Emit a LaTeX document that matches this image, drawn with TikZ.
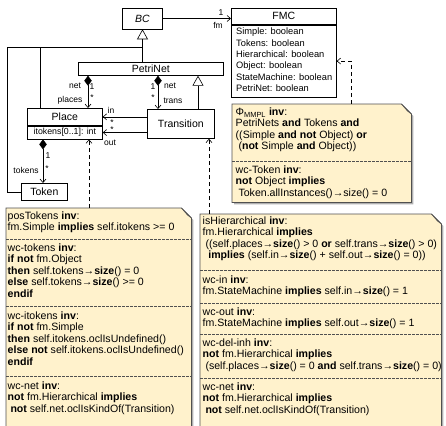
\documentclass[tikz,border=0pt]{standalone}
\usepackage{fontspec}
\setmainfont{Liberation Sans}
\usetikzlibrary{arrows.meta,calc}
\definecolor{notefill}{HTML}{FFF2CC}
\definecolor{noteline}{HTML}{505050}
\definecolor{foldfill}{HTML}{CFC5A2}
\definecolor{shadowc}{HTML}{B0B0B0}
\tikzset{
  cls/.style={draw=black, fill=white, line width=0.7pt, inner sep=0pt, font=\fontsize{10.5}{12}\selectfont},
  attrtxt/.style={font=\fontsize{9.3}{11.4}\selectfont, align=left, inner sep=0pt, anchor=north west},
  ntxt/.style={font=\fontsize{10.6}{11.5}\selectfont, align=left, inner sep=0pt, anchor=north west},
  lbl/.style={font=\fontsize{8.5}{9}\selectfont, inner sep=0pt},
  conn/.style={line width=0.6pt},
  gen/.style={conn, -{Triangle[open, length=10pt, width=11pt]}},
  comp/.style={conn, {Diamond[length=10pt, width=7.5pt]}-{Straight Barb[length=3.5pt, width=6pt]}},
  assoc/.style={conn, -{Straight Barb[length=3.5pt, width=6pt]}},
  dep/.style={conn, dash pattern=on 4pt off 3pt, -{Straight Barb[length=3.5pt, width=6pt]}},
  notebox/.style={inner sep=0pt, anchor=north west},
  sep/.style={noteline, line width=0.6pt, dash pattern=on 2.5pt off 1.5pt}
}
\newcommand{\notedraw}[1]{%
  \fill[shadowc] ($(#1.north west)+(2,2)$) -- ($(#1.north east)+(-8,2)$) -- ($(#1.north east)+(2,12)$) -- ($(#1.south east)+(2,2)$) -- ($(#1.south west)+(2,2)$) -- cycle;
  \draw[fill=notefill, draw=noteline, line width=0.7pt] (#1.north west) -- ($(#1.north east)+(-10,0)$) -- ($(#1.north east)+(0,10)$) -- (#1.south east) -- (#1.south west) -- cycle;
  \draw[fill=foldfill, draw=noteline, line width=0.5pt] ($(#1.north east)+(-10,0)$) -- ($(#1.north east)+(0,10)$) -- ($(#1.north east)+(-4,7)$) -- cycle;
}
\begin{document}
\begin{tikzpicture}[x=1pt, y=-1pt]
\useasboundingbox (0,0) rectangle (446,425);

% ---------- classes ----------
\node[cls, minimum width=40pt, minimum height=21pt] (bc) at (142.5,18.5) {\textit{BC}};
\node[cls, minimum width=105pt, minimum height=16pt, anchor=north west] (fmc) at (231,8) {FMC};
\node[cls, minimum width=105pt, minimum height=72pt, anchor=north west] (fmcattr) at (fmc.south west) {};
\node[attrtxt] (fmcatts) at ($(fmcattr.north west)+(5,3)$) {Simple: boolean\\Tokens: boolean\\Hierarchical: boolean\\Object: boolean\\StateMachine: boolean\\PetriNet: boolean};

\node[cls, minimum width=145pt, minimum height=13pt, anchor=north west] (petri) at (78,62) {PetriNet};
\node[cls, minimum width=75pt, minimum height=17pt, anchor=north west] (placeH) at (27,108) {Place};
\node[cls, minimum width=75pt, minimum height=13pt, anchor=north west, font=\fontsize{8.8}{11}\selectfont] (placeA) at (placeH.south west) {itokens[0..1]: int};
\node[cls, minimum width=67pt, minimum height=29pt, anchor=north west] (trans) at (147,109) {Transition};
\node[cls, minimum width=46pt, minimum height=17pt, anchor=north west] (token) at (21,183) {Token};

% ---------- notes ----------
\node[notebox, minimum width=185pt, minimum height=218pt] (noteL) at (6,208) {};
\node[notebox, minimum width=241pt, minimum height=212pt] (noteR) at (200,214) {};
\node[notebox, minimum width=179pt, minimum height=98pt] (noteP) at (232,104) {};
\notedraw{noteL}
\notedraw{noteR}
\notedraw{noteP}

% separators
\draw[sep] (noteL.west |- 0,239) -- (noteL.east |- 0,239);
\draw[sep] (noteL.west |- 0,306) -- (noteL.east |- 0,306);
\draw[sep] (noteL.west |- 0,376) -- (noteL.east |- 0,376);
\draw[sep] (noteR.west |- 0,270) -- (noteR.east |- 0,270);
\draw[sep] (noteR.west |- 0,303) -- (noteR.east |- 0,303);
\draw[sep] (noteR.west |- 0,334) -- (noteR.east |- 0,334);
\draw[sep] (noteR.west |- 0,378) -- (noteR.east |- 0,378);
\draw[sep] (noteP.west |- 0,161) -- (noteP.east |- 0,161);

% note texts
\node[ntxt] (l1) at (7.5,211.5) {posTokens \textbf{inv}:\\fm.Simple \textbf{implies} self.itokens >= 0};
\node[ntxt] (l2) at (7.5,243.5) {wc-tokens \textbf{inv}:\\\textbf{if not} fm.Object\\\textbf{then} self.tokens→\textbf{size}() = 0\\\textbf{else} self.tokens→\textbf{size}() >= 0\\\textbf{endif}};
\node[ntxt] (l3) at (7.5,311.5) {wc-itokens \textbf{inv}:\\\textbf{if not} fm.Simple\\\textbf{then} self.itokens.oclIsUndefined()\\\textbf{else not} self.itokens.oclIsUndefined()\\\textbf{endif}};
\node[ntxt] (l4) at (7.5,381.5) {wc-net \textbf{inv}:\\\textbf{not} fm.Hierarchical \textbf{implies}\\\hspace{2.8pt}\textbf{not} self.net.oclIsKindOf(Transition)};

\node[ntxt] (r1) at (202.5,216.5) {isHierarchical \textbf{inv}:\\fm.Hierarchical \textbf{implies}\\\hspace{2.8pt}((self.places→\textbf{size}() > 0 \textbf{or} self.trans→\textbf{size}() > 0)\\\hspace{5.6pt}\textbf{implies} (self.in→\textbf{size}() + self.out→\textbf{size}() = 0))};
\node[ntxt] (r2) at (202.5,275.5) {wc-in \textbf{inv}:\\fm.StateMachine \textbf{implies} self.in→\textbf{size}() = 1};
\node[ntxt] (r3) at (202.5,307.5) {wc-out \textbf{inv}:\\fm.StateMachine \textbf{implies} self.out→\textbf{size}() = 1};
\node[ntxt] (r4) at (202.5,338.5) {wc-del-inh \textbf{inv}:\\\textbf{not} fm.Hierarchical \textbf{implies}\\\hspace{2.8pt}(self.places→\textbf{size}() = 0 \textbf{and} self.trans→\textbf{size}() = 0)};
\node[ntxt] (r5) at (202.5,382.5) {wc-net \textbf{inv}:\\\textbf{not} fm.Hierarchical \textbf{implies}\\\hspace{2.8pt}\textbf{not} self.net.oclIsKindOf(Transition)};

\node[ntxt] (p1) at (235.5,107.5) {Φ\textsubscript{MMPL} \textbf{inv}:\\PetriNets \textbf{and} Tokens \textbf{and}\\((Simple \textbf{and not} Object) \textbf{or}\\\hspace{2.8pt}(\textbf{not} Simple \textbf{and} Object))};
\node[ntxt] (p2) at (235.5,165.5) {wc-Token \textbf{inv}:\\\textbf{not} Object \textbf{implies}\\\hspace{2.8pt}Token.allInstances()→size() = 0};

% ---------- connectors ----------
\coordinate (j) at (142.5,47);
\coordinate (lc) at (7,47);
\coordinate (pl) at ($(placeH.north west)+(13,0)$);
\draw[gen] (bc.south |- petri.north) -- (bc.south);
\draw[conn] (pl) -- (pl |- j) -- (j);
\draw[conn] (token.west) -| (lc) -- (j);

\coordinate (pnet) at ($(placeH.north west)+(61,0)$);
\draw[comp] (petri.south -| pnet) -- (pnet);
\coordinate (tnet) at ($(trans.north west)+(11,0)$);
\draw[comp] (petri.south -| tnet) -- (tnet);
\coordinate (tgen) at ($(trans.north west)+(51,0)$);
\draw[gen] (tgen) -- (petri.south -| tgen);

\draw[assoc] (trans.west |- placeH.east) -- (placeH.east);
\draw[assoc] (trans.west |- placeA.east) -- (placeA.east);

\coordinate (ptok) at ($(token.north west)+(22,0)$);
\draw[comp] (placeA.south -| ptok) -- (ptok);

\draw[assoc] (bc.east) -- (bc.east -| fmc.west);

\coordinate (d1) at ($(noteL.north west)+(83,0)$);
\draw[dep] (d1) -- (placeA.south -| d1);
\coordinate (d2) at ($(noteR.north west)+(9,0)$);
\draw[dep] (d2) -- (trans.south -| d2);
\coordinate (d3) at ($(noteP.north west)+(119,0)$);
\draw[dep] (d3) |- (fmcattr.east);

% ---------- labels ----------
\node[lbl] (lnet1) at (75,86) {net};
\node[lbl] (lone1) at (92,87) {1};
\node[lbl] (lplaces) at (70,100) {places};
\node[lbl] (lstar1) at (92,98) {*};
\node[lbl] (lone2) at (153,87) {1};
\node[lbl] (lnet2) at (170,86) {net};
\node[lbl] (lstar2) at (153,98) {*};
\node[lbl] (ltrans) at (173,101) {trans};
\node[lbl] (lin) at (111,110) {in};
\node[lbl] (lout) at (110,143) {out};
\node[lbl] (lstar3) at (112,122.5) {*};
\node[lbl] (lstar4) at (112,129.5) {*};
\node[lbl] (lone3) at (48,156) {1};
\node[lbl] (ltokens) at (26,170) {tokens};
\node[lbl] (lstar5) at (47,169) {*};
\node[lbl] (lone4) at (221,13) {1};
\node[lbl] (lfm) at (218,25) {fm};
\end{tikzpicture}
\end{document}
